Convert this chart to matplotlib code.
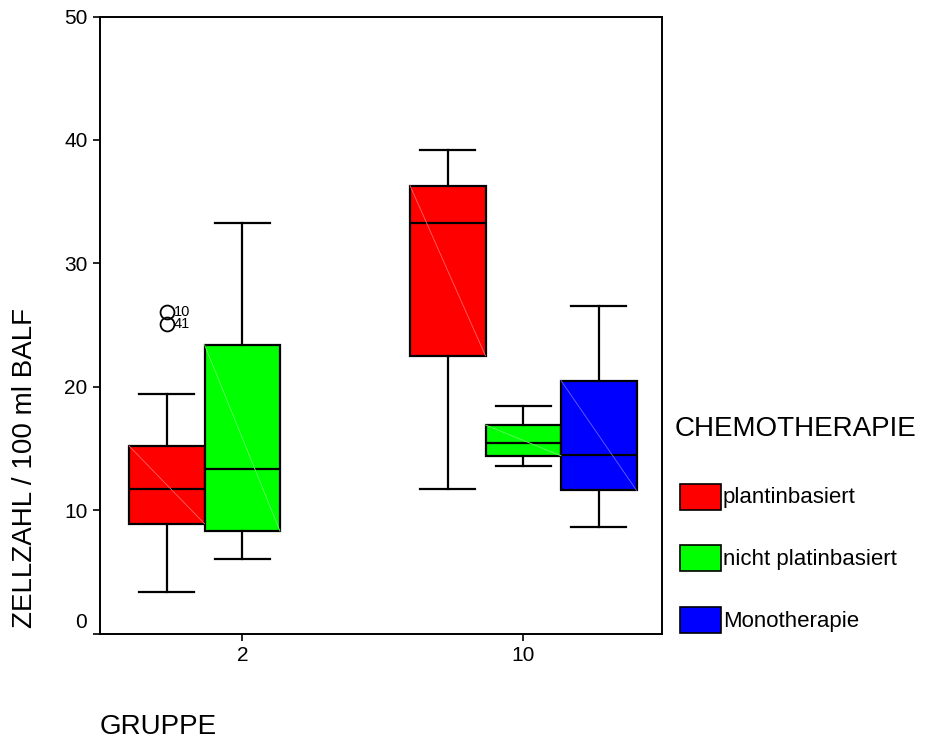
import matplotlib
matplotlib.use("Agg")
import matplotlib.pyplot as plt
from matplotlib.patches import Rectangle
import matplotlib.colors as mcolors

plt.rcParams['font.family'] = ['Liberation Sans', 'DejaVu Sans']

# ---- data ----
groups = ["2", "10"]
series = ["plantinbasiert", "nicht platinbasiert", "Monotherapie"]
series_colors = ["#ff0000", "#00ff00", "#0000ff"]

# (whislo, q1, median, q3, whishi) per group per series; None = no box
stats_g2 = [
    (3.4, 8.9, 11.7, 15.2, 19.4),
    (6.0, 8.3, 13.3, 23.4, 33.3),
    None,
]
stats_g10 = [
    (11.7, 22.5, 33.3, 36.3, 39.2),
    (13.6, 14.4, 15.4, 16.9, 18.4),
    (8.6, 11.6, 14.5, 20.5, 26.5),
]
outliers_g2_red = [26.05, 25.05]
outlier_ids = ["10", "41"]

yticks = [0, 10, 20, 30, 40, 50]

# ---- layout ----
W, H = 926, 742
fig = plt.figure(figsize=(W / 100, H / 100), dpi=100)
ax_l, ax_r, ax_t, ax_b = 100, 662, 16.5, 633.5
ax = fig.add_axes([ax_l / W, 1 - ax_b / H, (ax_r - ax_l) / W, (ax_b - ax_t) / H])

box_px = 75.5
xmax = (ax_r - ax_l) / box_px
group_start = [(129 + box_px / 2 - ax_l) / box_px, (410 + box_px / 2 - ax_l) / box_px]
tick_pos = [g + 1 for g in group_start]   # middle of the three slots

all_stats = [stats_g2, stats_g10]
for gi, gstats in enumerate(all_stats):
    for si, st in enumerate(gstats):
        if st is None:
            continue
        lo, q1, med, q3, hi = st
        fl = outliers_g2_red if (gi == 0 and si == 0) else []
        pos = group_start[gi] + si
        d = dict(whislo=lo, q1=q1, med=med, q3=q3, whishi=hi, fliers=fl)
        ax.bxp([d], positions=[pos], widths=1.0, capwidths=0.73,
               patch_artist=True, showfliers=True,
               boxprops=dict(facecolor=series_colors[si], edgecolor='black', linewidth=1.6),
               medianprops=dict(color='black', linewidth=1.6),
               whiskerprops=dict(color='black', linewidth=1.6),
               capprops=dict(color='black', linewidth=1.6),
               flierprops=dict(marker='o', markerfacecolor='none', markeredgecolor='black',
                               markersize=10, markeredgewidth=1.3))
        # faint diagonal artefact inside box
        light = mcolors.to_rgb(series_colors[si])
        light = tuple(0.6 * c + 0.4 for c in light)
        ax.plot([pos - 0.5, pos + 0.5], [q3, q1], color=light, linewidth=0.6, zorder=3)
        if fl:
            for v, lab in zip(fl, outlier_ids):
                ax.annotate(lab, (pos, v), xytext=(5, 0), textcoords='offset points',
                            fontsize=10.5, va='center', ha='left')

ax.set_xlim(0, xmax)
ax.set_ylim(0, 50)
ax.set_yticks(yticks)
ax.set_yticklabels(['' if t == 0 else str(t) for t in yticks])
# the zero label sits slightly above its tick in the reference
ax.annotate(str(yticks[0]), (0, yticks[0]), xycoords=('axes fraction', 'data'),
            xytext=(-9.5, 8), textcoords='offset points', ha='right', va='center', fontsize=15)
ax.set_xticks(tick_pos)
ax.set_xticklabels(groups)
ax.tick_params(axis='both', direction='out', length=5, width=1.2, labelsize=15, pad=4)
for sp in ax.spines.values():
    sp.set_linewidth(1.4)

fig.text(25 / W, 1 - 468 / H, "ZELLZAHL / 100 ml BALF", rotation=90,
         ha='center', va='center', fontsize=20)
fig.text(100 / W, 1 - 727 / H, "GRUPPE", ha='left', va='center', fontsize=20)

# legend
fig.text(675 / W, 1 - 429 / H, "CHEMOTHERAPIE", ha='left', va='center', fontsize=20)
entry_y = [497, 558, 620]
for name, col, yc in zip(series, series_colors, entry_y):
    r = Rectangle((680 / W, 1 - (yc + 13) / H), 41 / W, 26 / H,
                  transform=fig.transFigure, facecolor=col, edgecolor='black', linewidth=1.2)
    fig.add_artist(r)
    fig.text(723 / W, 1 - (yc + 1) / H, name, ha='left', va='center', fontsize=16)

fig.savefig("out.png", dpi=100)
